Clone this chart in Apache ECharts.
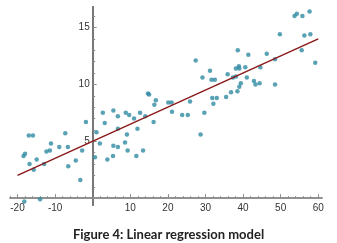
<!DOCTYPE html>
<html>
<head>
<meta charset="utf-8">
<script src="https://cdn.jsdelivr.net/npm/echarts@6/dist/echarts.min.js"></script>
<style>
	html, body { margin: 0; padding: 0; background: #fff; }
	#chart { width: 337px; height: 243px; }
</style>
</head>
<body>
<div id="chart"></div>
<script>
// 散点数据 (x, y)
var pointX = [-18.2, -14.0, -18.4, -18.0, -17.0, -15.9, -16.8, -15.7, -14.9, -12.9, -12.3, -11.4, -11.1, -8.9, -7.3, -6.6, -6.5, -4.5, -3.3, -2.8, -1.8,
	0.6, 1.0, 1.9, 2.7, 3.2, 3.9, 5.4, 5.5, 5.5, 6.7, 6.7, 6.7, 8.6, 8.8, 9.1, 9.3, 9.7, 11.0, 11.6, 11.9, 12.6, 13.4, 14.0, 14.7, 15.0,
	16.2, 16.4, 16.8, 20.1, 21.0, 21.1, 23.8, 25.3, 25.9, 27.4, 28.7, 29.2, 29.7, 31.2, 31.6, 32.5, 31.8, 33.0, 32.1, 35.5, 35.9, 36.8,
	37.3, 38.1, 38.1, 38.5, 38.6, 38.9, 39.0, 39.0, 39.4, 40.6, 41.0, 41.4, 42.9, 43.3, 44.4, 44.6, 46.3, 48.5, 48.5, 49.8, 53.7, 54.3,
	55.6, 55.8, 56.3, 57.7, 57.9, 59.2];
var pointY = [-0.3, -0.1, 3.7, 3.9, 5.5, 5.5, 3.0, 2.5, 3.4, 3.0, 4.1, 4.2, 4.8, 4.5, 5.7, 4.5, 2.8, 3.3, 1.6, 4.2, 6.7,
	3.6, 5.8, 4.8, 7.5, 6.6, 3.4, 3.7, 4.6, 7.7, 7.2, 6.1, 4.5, 4.9, 7.5, 5.6, 4.2, 7.3, 7.0, 3.7, 6.1, 7.5, 4.2, 7.2, 9.2, 9.1,
	6.7, 8.2, 8.6, 8.4, 8.4, 7.6, 7.3, 7.3, 8.5, 12.1, 5.6, 10.6, 7.5, 11.2, 10.4, 10.4, 8.8, 8.8, 8.3, 8.9, 10.9, 9.3,
	10.6, 10.7, 11.4, 9.4, 13.0, 11.6, 11.4, 9.8, 10.1, 11.5, 10.6, 12.6, 10.3, 10.0, 10.1, 11.5, 12.7, 12.2, 10.0, 14.4, 16.0, 16.2,
	13.0, 16.0, 14.3, 16.4, 14.4, 11.9];

// 回归直线端点
var lineX = [-20, 60];
var lineY = [2.0, 14.0];

// 刻度
var xTickLabels = [-20, -10, 10, 20, 30, 40, 50, 60];
var xMinorTicks = [-22, -18, -16, -14, -12, -8, -6, -4, -2, 2, 4, 6, 8, 12, 14, 16, 18, 22, 24, 26, 28, 32, 34, 36, 38, 42, 44, 46, 48, 52, 54, 56, 58];
var yTickLabels = [5, 10, 15];
var yMinorTicks = [1, 2, 3, 4, 6, 7, 8, 9, 11, 12, 13, 14, 16];

var caption = 'Figure 4: Linear regression model';

/* ---------------------------------------------图表--------------------------------------------- */
var chart = echarts.init(document.getElementById('chart'));

var scatterData = [];
for (var i = 0; i < pointX.length; i++) {
	scatterData.push([pointX[i], pointY[i]]);
}
var lineData = [];
for (var j = 0; j < lineX.length; j++) {
	lineData.push([lineX[j], lineY[j]]);
}

// 坐标范围与绘图区
var xMin = -22, xMax = 61;
var yMin = -0.6, yMax = 16.8;
var grid = { left: 10, right: 15, top: 7, bottom: 38 };
var plotW = 337 - grid.left - grid.right;
var plotH = 243 - grid.top - grid.bottom;
// 轴线移到 0 处 (v6 的 onZero 标签不跟随, 改用 offset)
var yAxisOffset = -(0 - xMin) / (xMax - xMin) * plotW;
var xAxisOffset = -(0 - yMin) / (yMax - yMin) * plotH;

var axisColor = '#8a8a8a';
var labelStyle = {
	color: '#333',
	fontSize: 10,
	fontFamily: 'Liberation Sans'
};

function xAxisCfg(ticks, tickLen, showLabel) {
	return {
		type: 'value',
		min: xMin,
		max: xMax,
		position: 'bottom',
		offset: xAxisOffset,
		axisLine: { onZero: false, lineStyle: { color: axisColor, width: 1.5 } },
		axisTick: { inside: true, length: tickLen, customValues: ticks, lineStyle: { color: axisColor } },
		axisLabel: showLabel ? {
			customValues: ticks,
			margin: 5,
			color: labelStyle.color,
			fontSize: labelStyle.fontSize,
			fontFamily: labelStyle.fontFamily
		} : { show: false },
		splitLine: { show: false }
	};
}

function yAxisCfg(ticks, tickLen, showLabel) {
	return {
		type: 'value',
		min: yMin,
		max: yMax,
		position: 'left',
		offset: yAxisOffset,
		axisLine: { onZero: false, lineStyle: { color: '#777', width: 2 } },
		axisTick: { inside: true, length: tickLen, customValues: ticks, lineStyle: { color: axisColor } },
		axisLabel: showLabel ? {
			customValues: ticks,
			margin: 3,
			color: labelStyle.color,
			fontSize: labelStyle.fontSize,
			fontFamily: labelStyle.fontFamily
		} : { show: false },
		splitLine: { show: false }
	};
}

var option = {
	animation: false,
	backgroundColor: '#fff',
	title: {
		text: caption,
		left: 'center',
		top: 223,
		textStyle: {
			fontFamily: 'Lato',
			fontWeight: 'bold',
			fontSize: 13,
			color: '#222'
		}
	},
	grid: {
		left: grid.left,
		right: grid.right,
		top: grid.top,
		bottom: grid.bottom,
		containLabel: false
	},
	xAxis: [xAxisCfg(xTickLabels, 4, true), xAxisCfg(xMinorTicks, 2, false)],
	yAxis: [yAxisCfg(yTickLabels, 4, true), yAxisCfg(yMinorTicks, 2.5, false)],
	series: [{
		name: 'data',
		type: 'scatter',
		xAxisIndex: 0,
		yAxisIndex: 0,
		data: scatterData,
		symbol: 'circle',
		symbolSize: 4.5,
		clip: false,
		itemStyle: { color: '#2f8ba3' },
		z: 3
	}, {
		name: 'fit',
		type: 'line',
		xAxisIndex: 0,
		yAxisIndex: 0,
		data: lineData,
		symbol: 'none',
		lineStyle: { color: '#8b1a1a', width: 1.5 },
		z: 4
	}]
};

chart.setOption(option);
</script>
</body>
</html>
